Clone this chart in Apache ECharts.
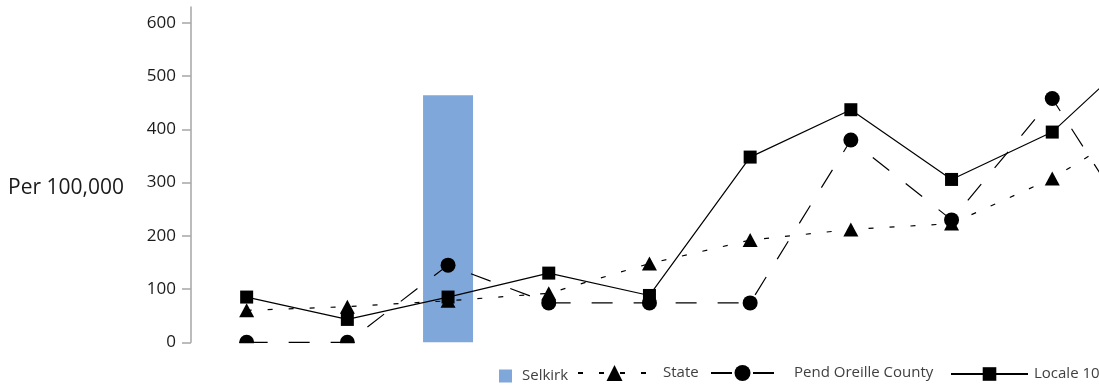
<!DOCTYPE html>
<html>
<head>
<meta charset="utf-8">
<script src="https://cdn.jsdelivr.net/npm/echarts@6/dist/echarts.min.js"></script>
<style>
    html, body { margin: 0; padding: 0; overflow: hidden; background: #fff; }
    #chart { width: 1260px; height: 386px; }
</style>
</head>
<body>
<div id="chart"></div>
<script>
// values; the last period is cut off at the right edge
var periods = ['1', '2', '3', '4', '5', '6', '7', '8', '9', '10'];
var selkirk = [null, null, 464, null, null, null, null, null, null, null];
var state = [60, 67, 78, 92, 148, 192, 212, 223, 308, 423];
var pendOreille = [0, 0, 145, 74, 74, 74, 380, 230, 458, 162];
var locale = [85, 43, 85, 130, 88, 348, 437, 306, 395, 570];
var yTicks = [0, 100, 200, 300, 400, 500, 600];

var font = '"Open Sans", "DejaVu Sans", sans-serif';

function legendItem(name, left, width, height, gap, icon) {
    var item = { name: name };
    if (icon) item.icon = icon;
    return {
        data: [item],
        left: left,
        top: 375 - height / 2,
        padding: 0,
        itemWidth: width,
        itemHeight: height,
        selectedMode: false,
        textStyle: { fontFamily: font, fontSize: 15, color: '#404040', padding: [0, 0, 0, gap] }
    };
}

var option = {
    animation: false,
    title: {
        text: 'Per 100,000',
        left: 8,
        top: 176,
        padding: 0,
        textStyle: { fontFamily: font, fontSize: 21, fontWeight: 'normal', color: '#1a1a1a', lineHeight: 24 }
    },
    legend: [
        legendItem('Selkirk', 499, 13, 13, 5, 'rect'),
        legendItem('State', 577, 73, 20, 7),
        legendItem('Pend Oreille County', 710, 63, 20, 15),
        legendItem('Locale 10', 950, 77, 17, 1)
    ],
    grid: {
        left: 196.3,
        top: 7,
        width: 1007,
        height: 335.3,
        containLabel: false,
        outerBoundsMode: 'none'
    },
    xAxis: {
        type: 'category',
        data: periods,
        boundaryGap: true,
        axisLine: { show: false },
        axisTick: { show: false },
        axisLabel: { show: false }
    },
    yAxis: {
        type: 'value',
        min: 0,
        max: 630,
        interval: 100,
        offset: 5.3,
        splitLine: { show: false },
        axisLine: { show: true, lineStyle: { color: '#a6a6a6', width: 1.5 } },
        axisTick: { show: true, length: 9, customValues: yTicks, lineStyle: { color: '#a6a6a6', width: 1.5 } },
        axisLabel: {
            customValues: yTicks,
            margin: 15,
            fontFamily: font,
            fontSize: 17,
            color: '#1a1a1a'
        }
    },
    graphic: [{
        // the plot area clips markers that sit on the zero line
        type: 'rect',
        z: 100,
        shape: { x: 192, y: 343.3, width: 1100, height: 14 },
        style: { fill: '#fff' }
    }],
    series: [
        {
            name: 'Selkirk',
            type: 'bar',
            data: selkirk,
            barWidth: 50,
            itemStyle: { color: '#7fa7d9' }
        },
        {
            name: 'State',
            type: 'line',
            data: state,
            symbol: 'triangle',
            symbolSize: [15, 14],
            color: '#000',
            itemStyle: { color: '#000' },
            lineStyle: { color: '#000', width: 1.2, type: [5, 16] }
        },
        {
            name: 'Pend Oreille County',
            type: 'line',
            data: pendOreille,
            symbol: 'circle',
            symbolSize: 15,
            color: '#000',
            itemStyle: { color: '#000' },
            lineStyle: { color: '#000', width: 1.2, type: [21, 21] }
        },
        {
            name: 'Locale 10',
            type: 'line',
            data: locale,
            symbol: 'rect',
            symbolSize: 13,
            color: '#000',
            itemStyle: { color: '#000' },
            lineStyle: { color: '#000', width: 1.2, type: 'solid' }
        }
    ]
};

var myChart = echarts.init(document.getElementById('chart'));
myChart.setOption(option);
</script>
</body>
</html>
